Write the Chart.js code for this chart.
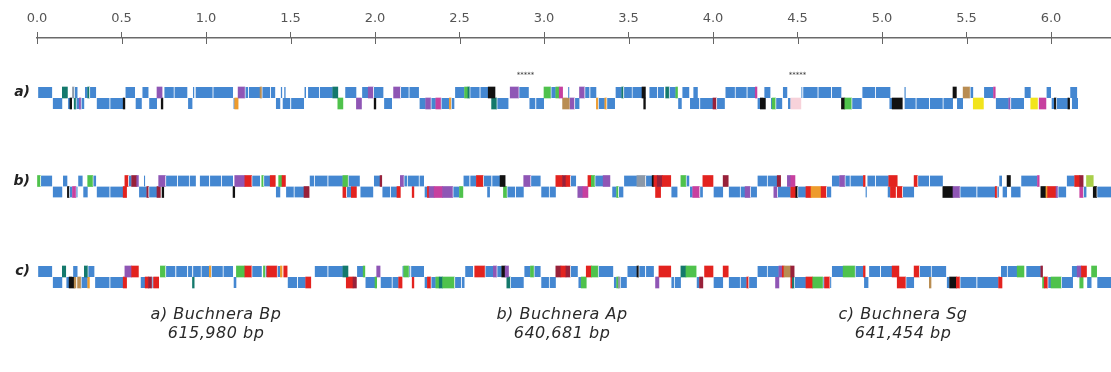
<!DOCTYPE html>
<html>
<head>
<meta charset="utf-8">
<script src="https://cdn.jsdelivr.net/npm/chart.js@4.4.1/dist/chart.umd.min.js"></script>
<style>
  html, body { margin: 0; padding: 0; background: #fff; }
  #wrap { width: 1111px; height: 372px; position: relative; }
</style>
</head>
<body>
<div id="wrap"><canvas id="chart"></canvas></div>
<script>
// positions are in kb, the axis is labelled in units of 100 kb
const tickLabels = ['0.0', '0.5', '1.0', '1.5', '2.0', '2.5', '3.0', '3.5', '4.0', '4.5', '5.0', '5.5', '6.0'];
const rowLabels = ['a)', 'b)', 'c)'];
const captions = ['a) Buchnera Bp', 'b) Buchnera Ap', 'c) Buchnera Sg'];
const genomeSizes = ['615,980 bp', '640,681 bp', '641,454 bp'];

// genes: [start kb, end kb, functional class]
const aPlus = [
  [0,9,'B'],[15,18,'T'],[21,22,'S'],[22,24,'B'],[28,30,'B'],[30,31,'T'],[31,35,'B'],
  [52,58,'B'],[62,66,'B'],[71,74,'P'],[75,81,'B'],[81,89,'B'],[92,93,'B'],
  [93.5,104,'B'],[104,116,'B'],[119,123,'P'],[123,125,'B'],[125,132,'B'],[132,133,'N'],[133,138,'B'],[138,141,'B'],
  [144,145,'B'],[146,147,'B'],[158,159,'B'],[160,167,'B'],[167,175,'B'],[175,178,'T'],
  [182,189,'B'],[192,196,'B'],[196,199,'P'],[199,205,'B'],[211,215,'P'],[215,220,'B'],[220,226,'B'],
  [247,253,'B'],[253,255,'G'],[255,256,'T'],[256,262,'B'],[262,267,'B'],[267,271,'K'],
  [280,285,'P'],[285,291,'B'],[300,304,'G'],[304,307,'B'],[307,309,'G'],[309,311,'M'],[314,315,'B'],
  [321,324,'P'],[324,327,'B'],[327,331,'B'],[342,346,'B'],[346,347,'T'],[347,352,'B'],[352,358,'B'],[358,360,'K'],
  [362,367,'B'],[367,371,'B'],[372,374,'T'],[374,378,'B'],[378,379,'G'],[381.5,386,'B'],[388,391,'B'],
  [407,413,'B'],[413,420,'B'],[420,425,'B'],[425,426,'M'],[430,434,'B'],[441,444,'B'],[452,453,'B'],
  [453,462,'B'],[462,470,'B'],[470,476,'B'],[488,496,'B'],[496,505,'B'],[513,514,'B'],[542,544,'K'],
  [548,552,'N'],[552,554,'B'],[560,566,'B'],[566,567,'M'],[584,588,'B'],[597,600,'B'],[611,615.5,'B']
];
const aMinus = [
  [9,15,'B'],[18,19.5,'B'],[19.5,20.5,'K'],[22,23,'T'],[23,25,'B'],[25,26,'P'],[26,28,'B'],
  [35,43,'B'],[43,51,'B'],[51,52,'K'],[58,62,'B'],[66,71,'B'],[73.5,74.5,'K'],[89,92,'B'],
  [116,117,'B'],[117,119,'O'],[141,144,'B'],[145,150,'B'],[150,158,'B'],[178,181,'G'],[189,192,'P'],
  [199.5,200.5,'K'],[205,210,'B'],[226,230,'B'],[230,233,'P'],[233,236,'B'],[236,239,'M'],[239,244,'B'],[244,245,'O'],[245,247,'B'],
  [269,272,'T'],[272,279,'B'],[291,295,'B'],[295,300,'B'],[311,315,'N'],[315.5,318,'P'],[318,321,'B'],
  [331,332,'O'],[332,336,'B'],[336,337,'O'],[337,342,'B'],[359,360,'K'],[379,381.5,'B'],
  [386,392,'B'],[392,400,'B'],[400,402,'D'],[402,407,'B'],[426,428,'B'],[428,431,'K'],
  [434,435,'B'],[435,437,'G'],[437,441,'B'],[444,446,'B'],[446,452,'I'],[476,478,'K'],[478,482,'G'],[482,488,'B'],
  [504,506,'B'],[506,512,'K'],[513,520,'B'],[520,528,'B'],[528,536,'B'],[536,542,'B'],[544,548,'B'],
  [554,560,'Y'],[567,575,'B'],[575,576,'P'],[576,584,'B'],[588,592,'Y'],[593,597,'M'],
  [600,602,'B'],[602,603,'K'],[603,610,'B'],[610,611,'K'],[612,616,'B']
];

const bPlus = [
  [0,2,'G'],[2,9,'B'],[15,18,'B'],[24,27,'B'],[30,33,'G'],[33,35,'B'],
  [52,54,'R'],[54,56,'B'],[56,59,'D'],[59,60,'P'],[63,64,'B'],[72,76,'P'],
  [76,83,'B'],[83,90,'B'],[90,94,'B'],[96,102,'B'],[102,109,'B'],[109,116,'B'],
  [117,123,'P'],[123,127,'R'],[127,132,'B'],[133,134,'G'],[134,138,'B'],[138,141,'R'],
  [143,145,'G'],[145,147,'R'],[161,164,'B'],[164,172,'B'],[172,181,'B'],[181,184,'G'],[184,191,'B'],
  [199,203,'B'],[203,204,'D'],[215,217,'P'],[217,219,'B'],[219,226,'B'],[226,229,'B'],
  [252,256,'B'],[256,260,'B'],[260,264,'R'],[264,269,'B'],[269,274,'B'],[274,277,'K'],
  [288,292,'P'],[292,298,'B'],[307,311,'R'],[311,313,'D'],[313,315.5,'R'],[315.5,319,'B'],
  [326,328,'R'],[328,330,'G'],[330,335,'B'],[335,339,'P'],[347,355,'B'],[355,360,'S'],[360,364,'B'],[364,365,'K'],
  [365,367,'R'],[367,370,'D'],[370,375,'R'],[381,384,'G'],[384,386,'B'],[394,400,'R'],[406,409,'D'],
  [426,432,'B'],[432,438,'B'],[438,440,'D'],[444,446,'P'],[446,448.5,'M'],
  [470,475,'B'],[475,478,'P'],[478,481,'B'],[481,489,'B'],[489,490,'R'],[491,496,'B'],[496,504,'B'],[504,509,'R'],
  [519,521,'R'],[521,528,'B'],[528,536,'B'],[569,571,'B'],[574,576,'K'],[582,592,'B'],[592,593,'M'],
  [609,614,'B'],[614,617,'R'],[617,619,'D'],[621,625,'L']
];
const bMinus = [
  [9,15,'B'],[18,19,'K'],[19,21,'B'],[21,23,'M'],[23,24,'B'],[27,30,'B'],
  [35,43,'B'],[43,51,'B'],[51,53,'R'],[60,65,'B'],[65,66,'D'],[66,71,'B'],[71,73,'D'],[74,75,'K'],
  [116,117,'K'],[141,144,'B'],[147,152,'B'],[152,158,'B'],[158,161,'D'],[181,183,'R'],[183,186,'B'],[186,189,'R'],[191,199,'B'],
  [204,209,'B'],[209,213,'B'],[213,215,'R'],[222,223,'R'],[229,231,'B'],[231,232,'R'],[232,235,'P'],[235,240,'M'],[240,246,'P'],[246,250,'B'],[250,252,'G'],
  [266,268,'B'],[276,278,'G'],[278,283,'B'],[283,288,'B'],[298,303,'B'],[303,307,'B'],[320,323,'P'],[323,326,'M'],
  [340,343,'B'],[343,344,'G'],[344,347,'B'],[366,369,'R'],[375,379,'B'],[386,388,'B'],[388,392,'M'],[392,394,'B'],
  [400,406,'B'],[409,416,'B'],[416,419,'B'],[419,422,'P'],[422,426,'B'],[436,438,'P'],[438,446,'B'],[446,449,'R'],[449,450,'K'],
  [450,455,'B'],[455,458,'R'],[458,464,'O'],[464,467,'R'],[467,470,'B'],[490,491,'B'],[503,505,'B'],[505,508,'R'],[509,512,'R'],[512,519,'B'],
  [536,542,'K'],[542,546,'P'],[546,556,'B'],[556,567,'B'],[567,568,'R'],[568,569,'B'],[571,574,'B'],[576,582,'B'],
  [594,597,'K'],[597,598,'O'],[598,603,'R'],[603,604,'P'],[604,609,'B'],[617,619,'M'],[619,621,'B'],[625,627,'K'],[627,641,'B']
];

const cPlus = [
  [0,9,'B'],[15,17,'T'],[21,24,'B'],[28,30,'T'],[30,34,'B'],[52,56,'P'],[56,60,'R'],
  [73,76,'G'],[76,82,'B'],[82,89,'B'],[89,92,'B'],[92,97,'B'],[97,102,'B'],[102,103,'O'],[103,110,'B'],[110,116,'B'],
  [118,123,'G'],[123,127,'R'],[127,133,'B'],[134,135,'G'],[135,136,'B'],[136,142,'R'],[142,144,'B'],[144,145,'O'],[146,148,'R'],
  [164,172,'B'],[172,181,'B'],[181,184,'T'],[189,193,'B'],[193,194,'G'],
  [201,203,'P'],[216,217,'B'],[217,220,'G'],[220,221,'B'],[221,229,'B'],
  [253,258,'B'],[259,265,'R'],[265,270,'B'],[270,272,'P'],[272,275,'B'],[275,277,'K'],[277,279,'P'],
  [288,292,'B'],[292,294,'G'],[294,298,'B'],[307,310,'D'],[310,313,'R'],[313,315.5,'D'],[315.5,320,'B'],
  [325,328,'R'],[328,332,'G'],[332,341,'B'],[349,355,'B'],[355,356,'K'],[356,360,'B'],[360,365,'B'],[368,375,'R'],
  [381,384,'T'],[384,390,'G'],[395,400,'R'],[406,409,'R'],
  [426,432,'B'],[432,439,'B'],[439,441,'P'],[441,442,'R'],[442,446,'N'],[446,448,'D'],
  [470,477,'B'],[477,484,'G'],[484,489,'B'],[489,490,'R'],[492,499,'B'],[499,506,'B'],[506,510,'R'],
  [519,522,'R'],[522,529,'B'],[529,538,'B'],[570,574,'B'],[574,580,'B'],[580,584,'G'],[585,594,'B'],[594,595,'D'],
  [612,615.5,'B'],[615.5,618,'P'],[618,621,'R'],[624,627,'G']
];
const cMinus = [
  [9,15,'B'],[17,19,'B'],[19,22,'K'],[22,23,'N'],[24,26,'N'],[26,30,'B'],[30,31,'O'],
  [34,43,'B'],[43,51,'B'],[51,53,'R'],[61,64,'B'],[64,66,'R'],[66,68,'D'],[68,69,'B'],[69,72,'R'],[92,93,'T'],
  [116,118,'B'],[148,154,'B'],[154,159,'B'],[159,162,'R'],[183,187,'R'],[187,189,'D'],[194,200,'B'],[200,201,'G'],
  [203,210,'B'],[210,214,'B'],[214,216,'R'],[222,223,'R'],[229,231,'B'],[231,233,'R'],[233,236,'B'],[236,238,'G'],[238,240,'T'],[240,247,'G'],[247,251,'B'],[251,253,'B'],
  [278,280,'T'],[280,288,'B'],[298,303,'B'],[303,307,'B'],[320,322,'B'],[322,325,'G'],
  [341,343,'B'],[343,344,'G'],[344,345,'S'],[345,349,'B'],[366,368,'P'],[375,377,'B'],[377,381,'B'],[390,392,'B'],[392,394,'D'],
  [400,406,'B'],[409,416,'B'],[416,420,'B'],[420,421,'R'],[421,426,'B'],[437,439,'P'],[446,447,'R'],[447,448,'T'],
  [448,455,'B'],[455,459,'R'],[459,465,'G'],[465,466,'B'],[466,469,'R'],[469,470,'B'],[489,492,'B'],[509,514,'R'],[514,519,'B'],[528,529,'N'],
  [538,540,'B'],[540,544,'K'],[544,546,'R'],[546,556,'B'],[556,569,'B'],[569,571,'R'],
  [595,596,'G'],[596,598,'R'],[598,600,'B'],[600,606,'G'],[606,613,'B'],[617,619,'G'],[621,624,'B'],[627,642,'B']
];

// small marks printed above genome a
const aMarks = [289, 450];

const classColors = {
  B: '#4487d1', R: '#e3231f', D: '#98213a', P: '#8f56b5', M: '#c7409f', G: '#4fc24c',
  T: '#14796c', K: '#111111', O: '#ee9b2c', N: '#b98d52', Y: '#f2e41c', I: '#f7d2da',
  S: '#8b98a8', L: '#a9cf4a'
};

// vertical layout (px below the axis line)
const rowMid = [60, 148.5, 239];
const half = 5.5;

function strand(genes, y) {
  return {
    data: genes.map(g => ({ x: [g[0], g[1]], y: y })),
    backgroundColor: genes.map(g => classColors[g[2]]),
    borderColor: 'rgba(255,255,255,0.75)',
    borderWidth: genes.map(g => g[2] === 'B' ? { left: 1, right: 0, top: 0, bottom: 0 } : 0),
    borderSkipped: false,
    barThickness: 11,
    maxBarThickness: 11,
    grouped: false
  };
}

const datasets = [
  strand(aPlus, rowMid[0] - half), strand(aMinus, rowMid[0] + half),
  strand(bPlus, rowMid[1] - half), strand(bMinus, rowMid[1] + half),
  strand(cPlus, rowMid[2] - half), strand(cMinus, rowMid[2] + half)
];

const extras = {
  id: 'extras',
  afterDraw(chart) {
    const ctx = chart.ctx;
    const xs = chart.scales.x;
    const ys = chart.scales.y;
    ctx.save();
    // lower half of the axis tick marks
    ctx.strokeStyle = '#666';
    ctx.lineWidth = 1;
    xs.ticks.forEach(t => {
      const px = Math.round(xs.getPixelForValue(t.value)) + 0.5;
      ctx.beginPath();
      ctx.moveTo(px, xs.bottom);
      ctx.lineTo(px, xs.bottom + 6);
      ctx.stroke();
    });
    // marks above genome a
    ctx.fillStyle = '#333';
    ctx.font = '7px "DejaVu Sans"';
    ctx.textAlign = 'center';
    ctx.textBaseline = 'middle';
    aMarks.forEach(v => {
      ctx.fillText('*****', xs.getPixelForValue(v), ys.getPixelForValue(rowMid[0] - 23));
    });
    // captions
    const capX = [216, 562, 903];
    ctx.fillStyle = '#2a2a2a';
    ctx.font = 'italic 16px "DejaVu Sans"';
    ctx.letterSpacing = '0.5px';
    capX.forEach((x, i) => {
      ctx.fillText(captions[i], x, 315);
      ctx.fillText(genomeSizes[i], x, 334);
    });
    ctx.restore();
  }
};

Chart.defaults.font.family = '"DejaVu Sans", sans-serif';

new Chart(document.getElementById('chart'), {
  type: 'bar',
  data: { datasets: datasets },
  options: {
    indexAxis: 'y',
    responsive: true,
    maintainAspectRatio: false,
    animation: false,
    layout: { padding: { left: 0, right: 0, top: 0, bottom: 72 } },
    plugins: { legend: { display: false }, tooltip: { enabled: false } },
    scales: {
      x: {
        type: 'linear',
        position: 'top',
        min: 0,
        max: 635.5,
        afterFit: s => { s.height = 38; },
        ticks: {
          stepSize: 50,
          includeBounds: false,
          maxRotation: 0,
          autoSkip: false,
          padding: 6,
          color: '#555',
          font: { size: 13 },
          callback: (v, i) => tickLabels[i]
        },
        grid: { drawOnChartArea: false, drawTicks: true, tickLength: 6, color: '#666' },
        border: { display: true, color: '#6a6a6a', width: 1.5 }
      },
      y: {
        type: 'linear',
        reverse: true,
        offset: false,
        grace: 0,
        min: 0,
        max: 262,
        afterFit: s => { s.width = 37; },
        afterBuildTicks: s => { s.ticks = rowMid.map(m => ({ value: m - half })); },
        ticks: {
          padding: 7,
          color: '#222',
          font: { size: 14, style: 'italic', weight: 'bold' },
          callback: (v, i) => rowLabels[i]
        },
        grid: { display: false, drawTicks: false },
        border: { display: false }
      }
    }
  },
  plugins: [extras]
});
</script>
</body>
</html>
